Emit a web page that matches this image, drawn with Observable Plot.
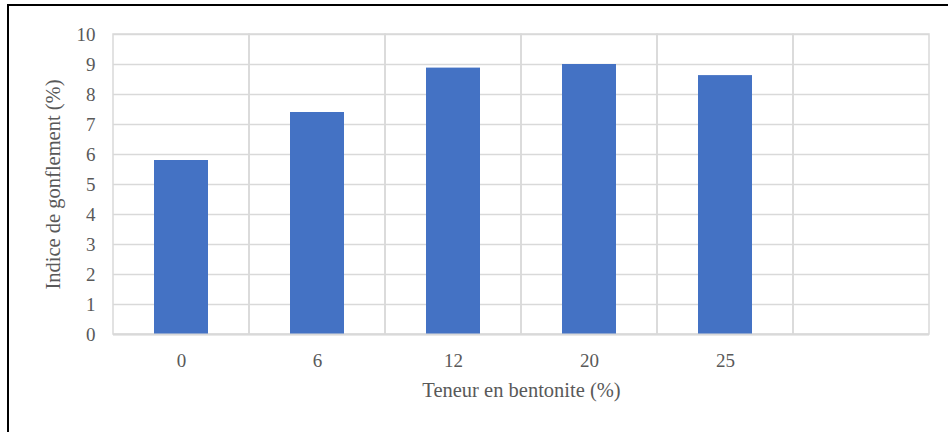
<!DOCTYPE html>
<html>
<head>
<meta charset="utf-8">
<script src="https://cdn.jsdelivr.net/npm/d3@7"></script>
<script src="https://cdn.jsdelivr.net/npm/@observablehq/plot@0.6"></script>
<style>
  html, body { margin: 0; padding: 0; background: #fff; overflow: hidden; }
  #wrap { position: relative; width: 948px; height: 432px; }
  #border { position: absolute; left: 7px; top: 4px; width: 960px; height: 450px; border: 2px solid #000; box-sizing: border-box; }
  #chart { position: absolute; left: 0; top: 0; }
</style>
</head>
<body>
<div id="wrap"><div id="chart"></div><div id="border"></div></div>
<script>
const categories = ["0", "6", "12", "20", "25"];
const values = [5.8, 7.4, 8.88, 9.0, 8.63];
const slots = [...categories, ""];          // empty sixth slot as in the original
const yTicks = [0, 1, 2, 3, 4, 5, 6, 7, 8, 9, 10];
const xTitle = "Teneur en bentonite (%)";
const yTitle = "Indice de gonflement (%)";

const data = categories.map((c, i) => ({cat: c, val: values[i]}));

const chart = Plot.plot({
  width: 948,
  height: 432,
  marginLeft: 113,
  marginRight: 19,
  marginTop: 34,
  marginBottom: 98,
  style: {fontFamily: "'Liberation Serif', 'Times New Roman', serif", fontSize: "19px", color: "#595959", background: "transparent"},
  x: {type: "band", domain: slots, padding: 0, label: null},
  y: {domain: [0, 10], label: null},
  marks: [
    Plot.gridY(yTicks, {stroke: "#d9d9d9", strokeOpacity: 1, strokeWidth: 1.5}),
    Plot.cell(slots, {x: d => d, fill: "none", stroke: "#d9d9d9", strokeWidth: 1.5}),
    Plot.barY(data, {x: "cat", y: "val", fill: "#4472C4", insetLeft: 41, insetRight: 41}),
    Plot.ruleY([0], {stroke: "#d9d9d9", strokeWidth: 2}),
    Plot.axisY(yTicks, {tickSize: 0, tickPadding: 18, label: null, fill: "#595959", fontSize: 19}),
    Plot.axisX(categories, {tickSize: 0, tickPadding: 19, label: null, fill: "#595959", fontSize: 19}),
    Plot.text([xTitle], {frameAnchor: "bottom", dy: 62, text: d => d, fill: "#595959", fontSize: 20.5}),
    Plot.text([yTitle], {frameAnchor: "left", dx: -60, rotate: -90, textAnchor: "middle", text: d => d, fill: "#595959", fontSize: 20.5})
  ]
});
document.getElementById("chart").appendChild(chart);
</script>
</body>
</html>
